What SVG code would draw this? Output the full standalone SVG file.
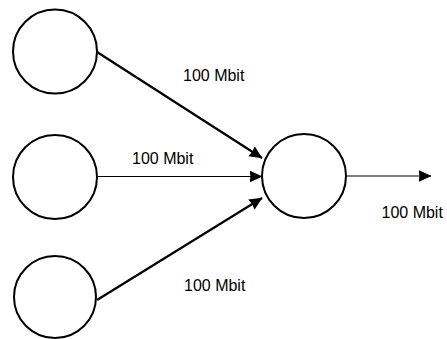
<svg xmlns="http://www.w3.org/2000/svg" width="447" height="339" viewBox="0 0 447 339">
<style>
.node{fill:#fff;stroke:#000;stroke-width:2}
.thick{stroke:#000;stroke-width:2.2;fill:none}
.thin{stroke:#000;stroke-width:1.2;fill:none}
text{font-family:"Liberation Sans",Arial,sans-serif;font-size:16px;fill:#000}
</style>
<defs>
<marker id="ah" markerUnits="userSpaceOnUse" viewBox="0 0 13 13" markerWidth="13" markerHeight="13" refX="12.5" refY="6.5" orient="auto">
<path d="M0,0.5 L13,6.5 L0,12.5 L1,6.5 z" fill="#000"/>
</marker>
</defs>
<g id="n1"><circle class="node" cx="55" cy="51.5" r="42"/></g>
<g id="n2"><circle class="node" cx="55" cy="177" r="42"/></g>
<g id="n3"><circle class="node" cx="55" cy="297" r="41"/></g>
<g id="n4"><circle class="node" cx="304" cy="176" r="42"/></g>
<g id="connectors">
<line class="thick" x1="97" y1="52" x2="262" y2="158" marker-end="url(#ah)"/>
<line class="thin" x1="97" y1="176.5" x2="262" y2="176.5" marker-end="url(#ah)"/>
<line class="thick" x1="97" y1="300" x2="262" y2="198" marker-end="url(#ah)"/>
<line class="thin" x1="346" y1="176" x2="431" y2="176" marker-end="url(#ah)"/>
</g>
<g id="labels">
<text x="183" y="81">100 Mbit</text>
<text x="132" y="164">100 Mbit</text>
<text x="184" y="291">100 Mbit</text>
<text x="381.5" y="218">100 Mbit</text>
</g>
</svg>
